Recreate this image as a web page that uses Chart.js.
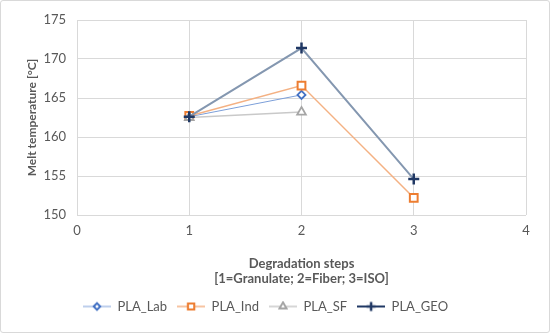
<!DOCTYPE html>
<html>
<head>
<meta charset="utf-8">
<script src="https://cdn.jsdelivr.net/npm/chart.js@4/dist/chart.umd.min.js"></script>
<style>
  html, body { margin: 0; padding: 0; background: #fff; }
  #wrap {
    position: relative;
    width: 548px;
    height: 331px;
    border: 1px solid #d9d9d9;
    border-radius: 3px;
  }
  canvas { display: block; }
</style>
</head>
<body>
<div id="wrap"><canvas id="chart" width="548" height="331"></canvas></div>
<script>
const seriesNames = ['PLA_Lab', 'PLA_Ind', 'PLA_SF', 'PLA_GEO'];
const labSteps = [1, 2];
const labValues = [162.6, 165.4];
const indSteps = [1, 2, 3];
const indValues = [162.7, 166.6, 152.2];
const sfSteps = [1, 2];
const sfValues = [162.5, 163.2];
const geoSteps = [1, 2, 3];
const geoValues = [162.6, 171.4, 154.6];
const xTicks = [0, 1, 2, 3, 4];
const yTicks = [150, 155, 160, 165, 170, 175];

const FONT = 'Lato, "Open Sans", sans-serif';
const TEXT = '#595959';
const GRID = '#d9d9d9';

function toPoints(xs, ys) {
  return xs.map((x, i) => ({ x, y: ys[i] }));
}

const styles = [
  { line: '#7c9fd9', mark: '#4472c4', point: 'rectRot', radius: 4, width: 1, markWidth: 1.8 },
  { line: '#f4b183', mark: '#ed7d31', point: 'rect', radius: 5.5, width: 1.5, markWidth: 2 },
  { line: '#c9c9c9', mark: '#a5a5a5', point: 'triangle', radius: 5, width: 1.5, markWidth: 1.8 },
  { line: '#8497b0', mark: '#203864', point: 'cross', radius: 5.5, width: 2, markWidth: 2.5 },
];

const seriesData = [
  toPoints(labSteps, labValues),
  toPoints(indSteps, indValues),
  toPoints(sfSteps, sfValues),
  toPoints(geoSteps, geoValues),
];

// small line + marker swatch for the legend
function legendSwatch(s) {
  const c = document.createElement('canvas');
  c.width = 28;
  c.height = 12;
  const ctx = c.getContext('2d');
  ctx.strokeStyle = s.point === 'cross' ? s.mark : s.line;
  ctx.lineWidth = s.width;
  ctx.beginPath();
  ctx.moveTo(0, 6);
  ctx.lineTo(28, 6);
  ctx.stroke();
  ctx.fillStyle = '#fff';
  ctx.strokeStyle = s.mark;
  ctx.lineWidth = s.markWidth;
  ctx.beginPath();
  if (s.point === 'cross') {
    ctx.moveTo(14 - 4.5, 6); ctx.lineTo(14 + 4.5, 6);
    ctx.moveTo(14, 6 - 4.5); ctx.lineTo(14, 6 + 4.5);
    ctx.stroke();
  } else {
    Chart.helpers.drawPoint(ctx, { pointStyle: s.point, radius: s.radius * 0.8, borderWidth: s.markWidth }, 14, 6);
    ctx.fill();
    ctx.stroke();
  }
  return c;
}

const datasets = seriesNames.map((name, i) => ({
  label: name,
  data: seriesData[i],
  showLine: true,
  borderColor: styles[i].line,
  borderWidth: styles[i].width,
  pointStyle: styles[i].point,
  pointRadius: styles[i].radius,
  pointBorderColor: styles[i].mark,
  pointBackgroundColor: styles[i].point === 'cross' ? styles[i].mark : '#ffffff',
  pointBorderWidth: styles[i].markWidth,
  order: 4 - i,
}));

new Chart(document.getElementById('chart'), {
  type: 'scatter',
  data: { datasets },
  options: {
    responsive: false,
    animation: false,
    layout: { padding: { top: 19, right: 23, bottom: 9, left: 4 } },
    plugins: {
      tooltip: { enabled: false },
      legend: {
        position: 'bottom',
        labels: {
          usePointStyle: true,
          pointStyleWidth: 28,
          color: TEXT,
          font: { family: FONT, size: 13 },
          padding: 10,
          generateLabels(chart) {
            return chart.data.datasets.map((ds, i) => ({
              text: ds.label,
              pointStyle: legendSwatch(styles[i]),
              fontColor: TEXT,
              lineWidth: 0,
              datasetIndex: i,
            }));
          },
        },
      },
    },
    scales: {
      x: {
        type: 'linear',
        min: 0,
        max: 4,
        afterBuildTicks(scale) { scale.ticks = xTicks.map((v) => ({ value: v })); },
        afterFit(scale) { scale.height = 75; },
        ticks: { color: TEXT, font: { family: FONT, size: 13 }, padding: 8 },
        grid: { color: GRID, drawTicks: false },
        border: { display: false },
        title: {
          display: true,
          text: ['Degradation steps', '[1=Granulate; 2=Fiber; 3=ISO]'],
          color: TEXT,
          font: { family: FONT, size: 13, weight: 'bold' },
          padding: { top: 4, bottom: 3 },
        },
      },
      y: {
        min: 150,
        max: 175,
        afterBuildTicks(scale) { scale.ticks = yTicks.map((v) => ({ value: v })); },
        afterFit(scale) { scale.width = 72; },
        ticks: { color: TEXT, font: { family: FONT, size: 13 }, padding: 11 },
        grid: { color: GRID, drawTicks: false },
        border: { display: false },
        title: {
          display: true,
          text: 'Melt temperature [°C]',
          color: TEXT,
          font: { family: FONT, size: 12, weight: 'bold' },
          padding: { top: 20, bottom: 0 },
        },
      },
    },
  },
});
</script>
</body>
</html>
